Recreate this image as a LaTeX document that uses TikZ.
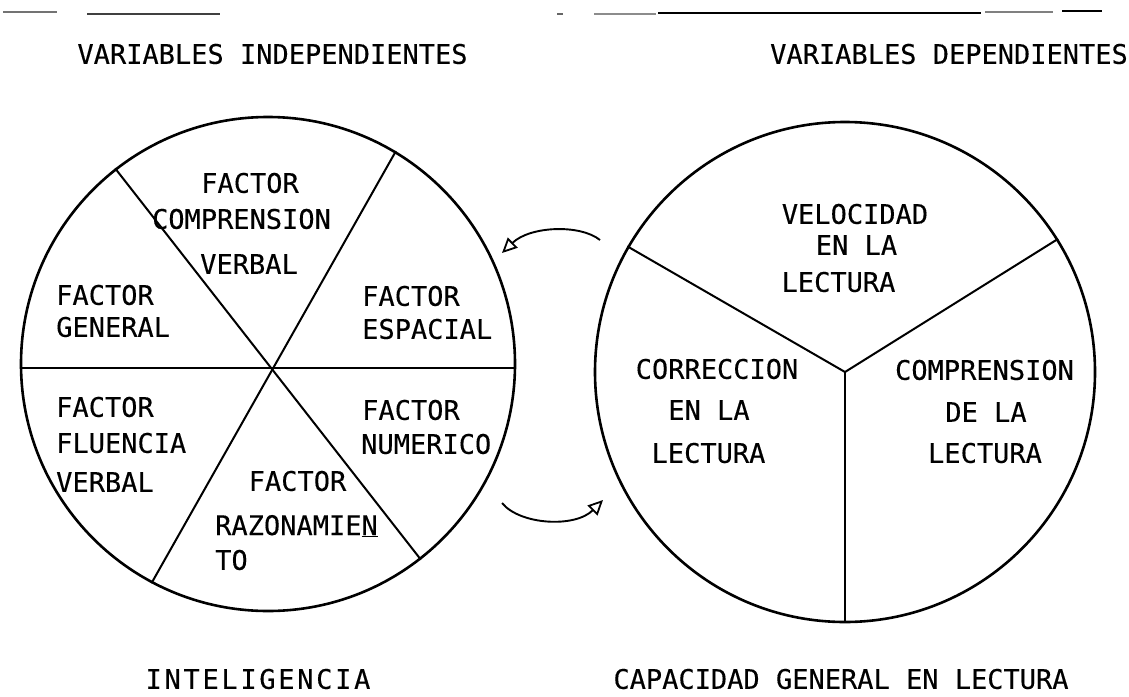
\documentclass[tikz,border=0pt]{standalone}
\usepackage{fontspec}
\setmainfont{DejaVu Sans Mono}[FakeBold=0.3]
\usetikzlibrary{arrows.meta}
\begin{document}
\begin{tikzpicture}[x=1pt,y=-1pt,
  lbl/.style={inner sep=0pt, font=\fontsize{27}{30}\selectfont},
  ring/.style={circle, draw, line width=2.6pt, inner sep=0pt},
  divider/.style={line width=2pt},
  flow/.style={line width=1.9pt, -{Triangle[open, length=15pt, width=14pt, line width=1.8pt]}},
  scan/.style={line width=1.6pt}]
\useasboundingbox (0,0) rectangle (1129,696);

% scan marks along the top edge
\draw[scan, black!55] (3,12) -- (57,12);
\draw[scan, black!75] (87,14) -- (220,14);
\draw[scan, black!60] (557,14) -- (563,14);
\draw[scan, black!45] (594,14) -- (656,14);
\draw[scan, line width=2pt] (658,13) -- (981,13);
\draw[scan, black!50] (985,12) -- (1053,12);
\draw[scan, line width=2.6pt] (1062,11) -- (1102,11);

% headers
\node[lbl] (hind) at (272.5,54) {VARIABLES INDEPENDIENTES};
\node[lbl] (hdep) at (949,54) {VARIABLES DEPENDIENTES};

% left circle
\node[ring, minimum size=494pt] (L) at (268,364) {};
\draw[divider] (L.128.9) -- (L.-52.9);
\draw[divider] (L.59.4) -- (L.-118.4);
\draw[divider] (L.181.2) -- (L.-1.2);

% right circle
\node[ring, minimum size=500pt] (R) at (845,372) {};
\draw[divider] (R.150) -- (R.center) -- (R.32);
\draw[divider] (R.center) -- (R.270);

% left circle labels
\node[lbl] (cv1) at (250,183) {FACTOR};
\node[lbl] (cv2) at (241.5,219) {COMPRENSION};
\node[lbl] (cv3) at (249,264) {VERBAL};
\node[lbl, anchor=west] (g1) at (56,295) {FACTOR};
\node[lbl, anchor=west] (g2) at (56,327) {GENERAL};
\node[lbl, anchor=west] (e1) at (362,296) {FACTOR};
\node[lbl, anchor=west] (e2) at (362,329) {ESPACIAL};
\node[lbl, anchor=west] (n1) at (362,410) {FACTOR};
\node[lbl, anchor=west] (n2) at (361,444) {NUMERICO};
\node[lbl, anchor=west] (f1) at (56,407) {FACTOR};
\node[lbl, anchor=west] (f2) at (56,443) {FLUENCIA};
\node[lbl, anchor=west] (f3) at (56,482) {VERBAL};
\node[lbl] (r1) at (297.5,481) {FACTOR};
\node[lbl, anchor=west] (r2) at (215,526) {RAZONAMIE\underline{N}};
\node[lbl, anchor=west] (r3) at (215,560) {TO};

% right circle labels
\node[lbl] (v1) at (855,214) {VELOCIDAD};
\node[lbl] (v2) at (856.5,245) {EN LA};
\node[lbl] (v3) at (838.5,282) {LECTURA};
\node[lbl] (c1) at (717,369) {CORRECCION};
\node[lbl] (c2) at (709,410) {EN LA};
\node[lbl] (c3) at (708.5,453) {LECTURA};
\node[lbl] (p1) at (984.5,370) {COMPRENSION};
\node[lbl] (p2) at (986,412) {DE LA};
\node[lbl] (p3) at (985,453) {LECTURA};

% footers
\node[lbl, font=\fontsize{27}{30}\selectfont\addfontfeature{LetterSpace=10}] (fint) at (258,679) {INTELIGENCIA};
\node[lbl] (fcap) at (841,679) {CAPACIDAD GENERAL EN LECTURA};

% arrows between circles
\coordinate (a1s) at (600,240);
\coordinate (a1e) at (502,253);
\coordinate (a2s) at (502,503);
\coordinate (a2e) at (603,500);
\draw[flow] (a1s) .. controls (580,224) and (530,226) .. (a1e);
\draw[flow] (a2s) .. controls (520,525) and (575,528) .. (a2e);
\end{tikzpicture}
\end{document}
